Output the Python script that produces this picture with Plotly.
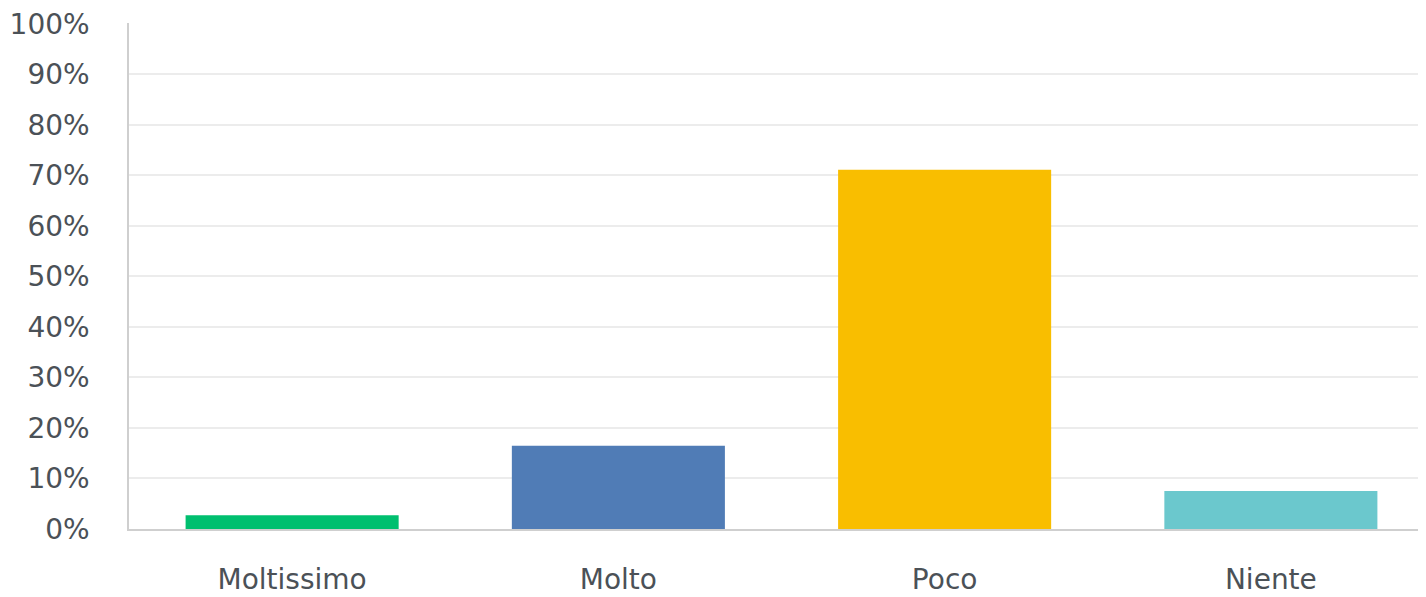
import plotly.graph_objects as go

categories = ["Moltissimo", "Molto", "Poco", "Niente"]
values = [2.7, 16.5, 71.1, 7.5]
colors = ["#00BF6F", "#507CB6", "#F9BE00", "#6BC8CD"]
y_ticks = list(range(0, 101, 10))
y_tick_labels = [f"{v}%" for v in y_ticks]

fig = go.Figure(
    go.Bar(
        x=categories,
        y=values,
        marker=dict(color=colors, line=dict(width=0)),
        hoverinfo="x+y",
    )
)

font_family = "'DejaVu Sans', sans-serif"
tick_color = "#4b5157"

fig.update_layout(
    width=1426,
    height=597,
    margin=dict(l=121, r=0, t=12, b=76),
    paper_bgcolor="white",
    plot_bgcolor="white",
    bargap=0.347,
    showlegend=False,
    font=dict(family=font_family, size=28, color=tick_color),
)

fig.update_yaxes(
    range=[0, 100.15],
    tickvals=y_ticks,
    ticktext=y_tick_labels,
    showgrid=True,
    gridcolor="#ececec",
    gridwidth=1.5,
    showline=True,
    linecolor="#cfcfcf",
    linewidth=1.5,
    zeroline=False,
    ticks="",
    ticklabelstandoff=32,
    ticklabeloverflow="allow",
    tickfont=dict(size=28, color=tick_color),
)

fig.update_xaxes(
    showline=True,
    linecolor="#cfcfcf",
    linewidth=1.5,
    ticks="",
    ticklabelstandoff=25,
    tickfont=dict(size=28, color=tick_color),
)

fig.write_html("out.html")
